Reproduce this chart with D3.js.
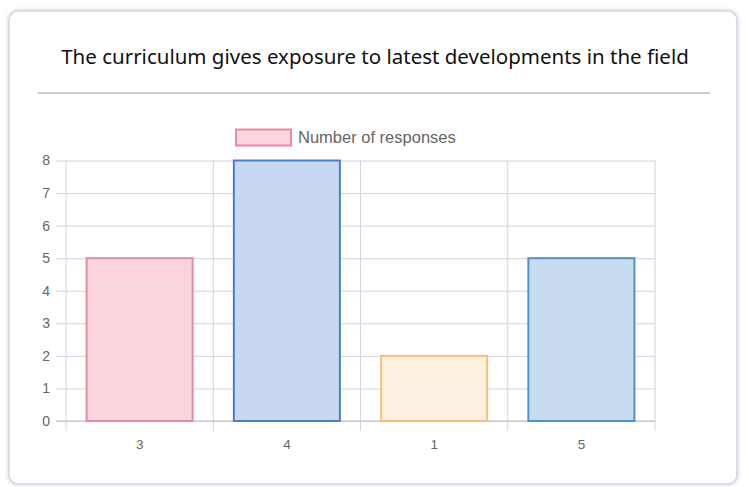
<!DOCTYPE html>
<html><head><meta charset="utf-8">
<script src="https://cdn.jsdelivr.net/npm/d3@7"></script>
<style>
html,body{margin:0;padding:0;background:#fff;}
svg{display:block;}
</style></head><body>
<svg id="c" width="749" height="487"></svg>
<script>
const title = "The curriculum gives exposure to latest developments in the field";
const seriesName = "Number of responses";
const categories = ["3", "4", "1", "5"];
const values = [5, 8, 2, 5];
const fills = ["#fbd5de", "#c9d8f2", "#fdf1e2", "#c7dcef"];
const strokes = ["#e88aa0", "#4a7fcc", "#f8c172", "#4f92cc"];
const yTicks = [0, 1, 2, 3, 4, 5, 6, 7, 8];

const svg = d3.select("#c");
const defs = svg.append("defs");
const f = defs.append("filter").attr("id","sh").attr("x","-5%").attr("y","-5%").attr("width","110%").attr("height","110%");
f.append("feGaussianBlur").attr("in","SourceAlpha").attr("stdDeviation",2);
f.append("feOffset").attr("dx",0).attr("dy",0).attr("result","b");
f.append("feFlood").attr("flood-color","#9aa0c0").attr("flood-opacity",0.5);
f.append("feComposite").attr("in2","b").attr("operator","in");
const m = f.append("feMerge"); m.append("feMergeNode"); m.append("feMergeNode").attr("in","SourceGraphic");

svg.append("rect").attr("x",9).attr("y",11).attr("width",728).attr("height",473).attr("rx",9)
  .attr("fill","#fff").attr("stroke","#d4d6e2").attr("stroke-width",1.5).attr("filter","url(#sh)");

svg.append("text").attr("x",375).attr("y",64).attr("text-anchor","middle")
  .attr("font-family","'Noto Sans', 'Open Sans', sans-serif").attr("font-size",20.5).attr("fill","#111")
  .text(title);
svg.append("line").attr("x1",38).attr("x2",710).attr("y1",93).attr("y2",93).attr("stroke","#9a9aa4").attr("stroke-width",1);

const x = d3.scaleBand().domain(categories).range([66,655]).paddingInner(0).paddingOuter(0);
const y = d3.scaleLinear().domain([0,8]).range([421,160.5]);
const barPct = 0.72;
const font = "'Liberation Sans', Arial, Helvetica, sans-serif";
const grid = "#d2d2e2";

// horizontal grid
const yAxis = d3.axisLeft(y).tickValues(yTicks).tickSize(10).tickPadding(6).tickFormat(d3.format("d"));
const gy = svg.append("g").attr("transform","translate(66,0)").call(yAxis);
gy.select(".domain").remove();
gy.selectAll(".tick line").attr("stroke",grid).attr("x2",655-66).attr("x1",-10);
gy.selectAll(".tick text").attr("font-family",font).attr("font-size",14).attr("fill","#666");

// vertical grid
const vlines = [66].concat(categories.map(c => x(c) + x.bandwidth()));
svg.append("g").selectAll("line").data(vlines).join("line")
  .attr("x1",d=>d).attr("x2",d=>d).attr("y1",160.5).attr("y2",431).attr("stroke",grid);

const xAxis = d3.axisBottom(x).tickSize(0).tickPadding(18);
const gx = svg.append("g").attr("transform","translate(0,421)").call(xAxis);
gx.select(".domain").remove();
gx.selectAll(".tick text").attr("font-family",font).attr("font-size",13.5).attr("fill","#666");

// zero line
svg.append("line").attr("x1",56).attr("x2",655).attr("y1",y(0)).attr("y2",y(0)).attr("stroke","#bdbdc8");

// bars
const bw = x.bandwidth()*barPct;
svg.append("g").selectAll("rect").data(values).join("rect")
  .attr("x",(d,i)=> x(categories[i]) + (x.bandwidth()-bw)/2)
  .attr("y",d=>y(d))
  .attr("width",bw)
  .attr("height",d=>y(0)-y(d))
  .attr("fill",(d,i)=>fills[i])
  .attr("stroke",(d,i)=>strokes[i])
  .attr("stroke-width",2);

// legend
svg.append("rect").attr("x",236).attr("y",129.5).attr("width",55).attr("height",16)
  .attr("fill",fills[0]).attr("stroke",strokes[0]).attr("stroke-width",2);
svg.append("text").attr("x",298).attr("y",143).attr("font-family",font).attr("font-size",16.5).attr("fill","#666")
  .text(seriesName);
</script>
</body></html>
